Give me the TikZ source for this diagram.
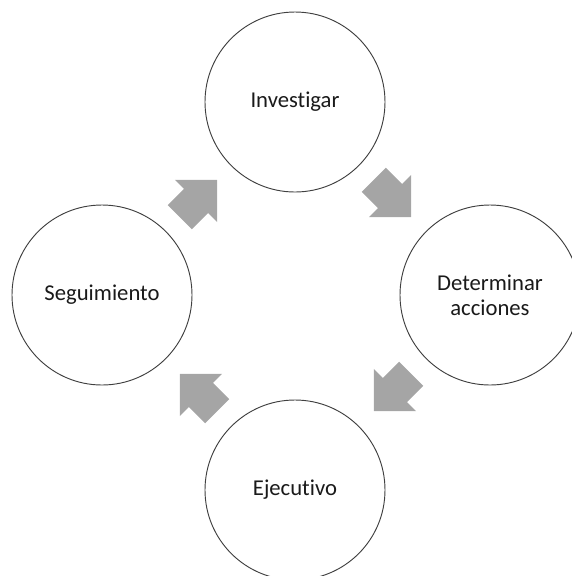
\documentclass[tikz,border=0pt]{standalone}
\usepackage{fontspec}
\setmainfont{Carlito}[Ligatures={NoCommon}]
\usetikzlibrary{calc}
\definecolor{arrowgray}{HTML}{A5A5A5}
\definecolor{circline}{HTML}{404040}
\definecolor{txt}{HTML}{1A1A1A}
\tikzset{
  stage/.style={circle, draw=circline, line width=0.7pt, fill=white,
    minimum size=135pt, inner sep=0pt, align=center, text=txt,
    font=\fontsize{17}{18.75}\selectfont},
  cyclearrow/.pic={\fill[arrowgray] (-26.5,-17) -- (-3.5,-17) -- (-3.5,-30)
    -- (26.5,0) -- (-3.5,30) -- (-3.5,17) -- (-26.5,17) -- cycle;}
}
\begin{document}
\begin{tikzpicture}[x=0.75pt,y=-0.75pt]
  \useasboundingbox (0,0) rectangle (572,576);
  \clip (0,0) rectangle (572,576);
  \node[stage] (inv) at (295,102) {Investigar};
  \node[stage] (det) at (490,295) {Determinar\\acciones};
  \node[stage] (eje) at (295,490) {Ejecutivo};
  \node[stage] (seg) at (102,295) {Seguimiento};
  \pic[rotate=-45] (a1) at ($(inv.center)!0.5!(det.center)$) {cyclearrow};
  \pic[rotate=-135] (a2) at ($(det.center)!0.5!(eje.center)$) {cyclearrow};
  \pic[rotate=135] (a3) at ($(eje.center)!0.5!(seg.center)$) {cyclearrow};
  \pic[rotate=45] (a4) at ($(seg.center)!0.5!(inv.center)$) {cyclearrow};
\end{tikzpicture}
\end{document}
